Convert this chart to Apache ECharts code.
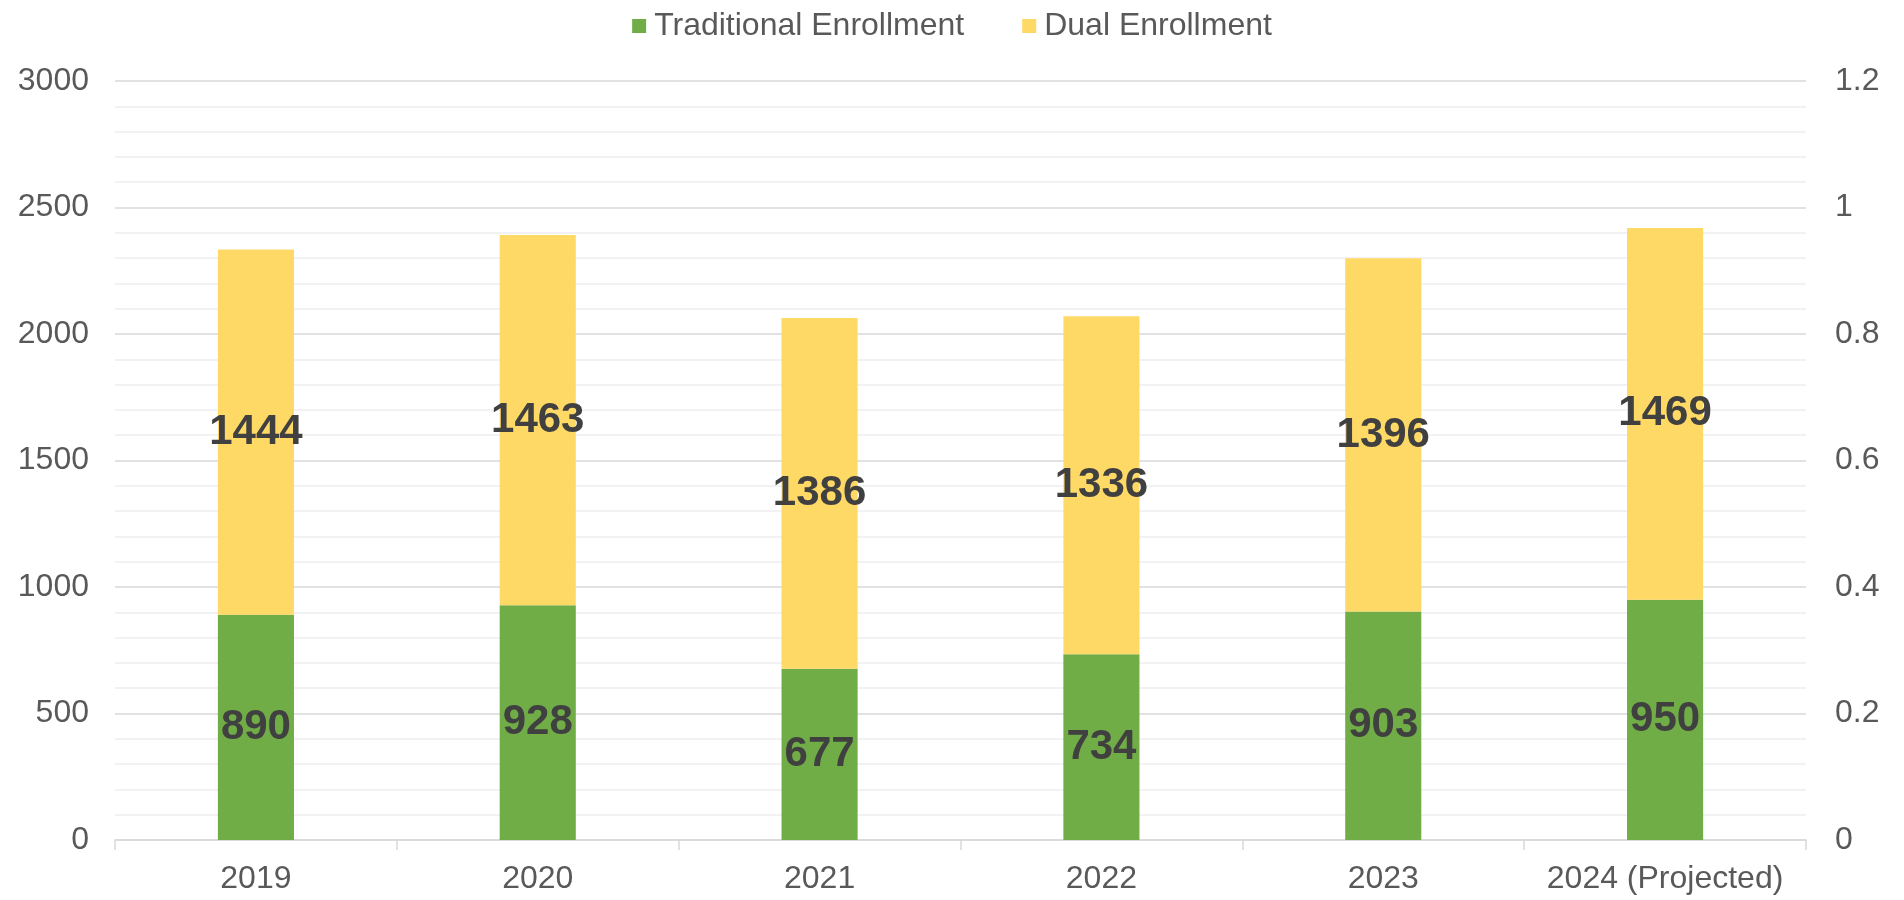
<!DOCTYPE html>
<html>
<head>
<meta charset="utf-8">
<script src="https://cdn.jsdelivr.net/npm/echarts@6/dist/echarts.min.js"></script>
<style>html,body{margin:0;padding:0;background:#fff;}#c{width:1904px;height:900px;}</style>
</head>
<body>
<div id="c"></div>
<script>
const categories = ['2019', '2020', '2021', '2022', '2023', '2024 (Projected)'];
const traditional = [890, 928, 677, 734, 903, 950];
const dual = [1444, 1463, 1386, 1336, 1396, 1469];
const seriesNames = ['Traditional Enrollment', 'Dual Enrollment'];

const FONT = 'Liberation Sans, Arial, sans-serif';
const chart = echarts.init(document.getElementById('c'));
const labelStyle = {
  show: true, position: 'inside', color: '#404040', fontSize: 42,
  fontWeight: 'bold', fontFamily: FONT, padding: [6, 0, 0, 0]
};
chart.setOption({
  animation: false,
  textStyle: { fontFamily: FONT },
  legend: {
    top: 5, left: 'center', itemWidth: 14, itemHeight: 14, itemGap: 58,
    icon: 'rect',
    textStyle: { fontSize: 32, color: '#595959', fontFamily: FONT, padding: [0, 0, 0, 3] },
    data: seriesNames
  },
  grid: { left: 115, right: 98, top: 81, bottom: 60, containLabel: false },
  xAxis: {
    type: 'category', data: categories,
    axisLine: { lineStyle: { color: '#d9d9d9', width: 1.5 } },
    axisTick: { show: true, length: 10, interval: 0, lineStyle: { color: '#d9d9d9', width: 1.5 } },
    axisLabel: { color: '#595959', fontSize: 32, margin: 23, interval: 0, fontFamily: FONT }
  },
  yAxis: [
    {
      type: 'value', min: 0, max: 3000, interval: 500,
      axisLine: { show: false }, axisTick: { show: false },
      axisLabel: { color: '#595959', fontSize: 32, margin: 26, fontFamily: FONT,
        formatter: v => String(v) },
      splitLine: { show: true, lineStyle: { color: '#d9d9d9', width: 1.5 } },
      minorTick: { show: false, splitNumber: 5 },
      minorSplitLine: { show: true, lineStyle: { color: '#eeeeee', width: 1.5 } }
    },
    {
      type: 'value', min: 0, max: 1.2, interval: 0.2, position: 'right',
      axisLine: { show: false }, axisTick: { show: false },
      axisLabel: { color: '#595959', fontSize: 32, margin: 29, fontFamily: FONT,
        formatter: v => String(+v.toFixed(1)) },
      splitLine: { show: false }
    }
  ],
  series: [
    {
      name: seriesNames[0], type: 'bar', stack: 'total', data: traditional,
      barWidth: '27%', itemStyle: { color: '#70ad47' }, label: labelStyle
    },
    {
      name: seriesNames[1], type: 'bar', stack: 'total', data: dual,
      barWidth: '27%', itemStyle: { color: '#ffd966' }, label: labelStyle
    }
  ]
});
</script>
</body>
</html>
